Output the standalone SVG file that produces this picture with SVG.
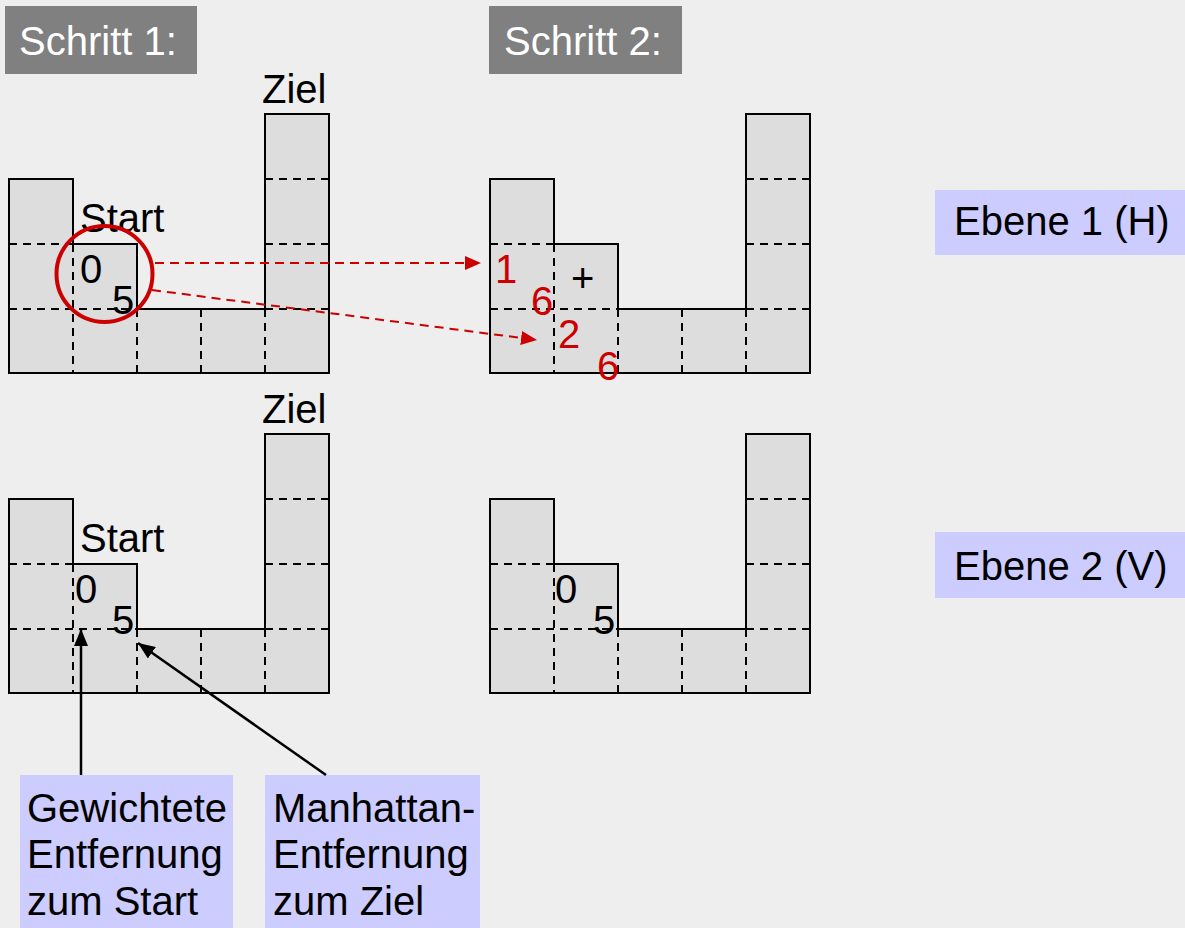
<svg xmlns="http://www.w3.org/2000/svg" xmlns:xlink="http://www.w3.org/1999/xlink" width="1185" height="928" viewBox="0 0 1185 928">
<style>
text{font-family:"Liberation Sans",Arial,sans-serif;font-size:40px;fill:#000}
.outline{fill:#dddddd;stroke:#000;stroke-width:2;stroke-linejoin:miter}
.dash{fill:none;stroke:#000;stroke-width:2;stroke-dasharray:8 6}
.hdr{fill:#808080}
.hdrt{fill:#fff}
.lbl{fill:#ccccff}
.red{fill:#cc0000}
.rline{fill:none;stroke:#cc0000;stroke-width:2;stroke-dasharray:9 6}
.bline{fill:none;stroke:#000;stroke-width:2.5}
</style>
<defs>
<marker id="ar" viewBox="0 0 16 14" refX="16" refY="7" markerWidth="16" markerHeight="14" markerUnits="userSpaceOnUse" orient="auto"><path d="M0,0 L16,7 L0,14 z" fill="#cc0000"/></marker>
<marker id="ab" viewBox="0 0 17 14" refX="17" refY="7" markerWidth="17" markerHeight="14" markerUnits="userSpaceOnUse" orient="auto"><path d="M0,0 L17,7 L0,14 z" fill="#000"/></marker>
<g id="grid">
<path class="outline" d="M9,179 H73 V244 H137 V309 H265 V114 H329 V373 H9 Z"/>
<path class="dash" d="M9,244 H73 M9,309 H137 M73,244 V373 M137,309 V373 M201,309 V373 M265,309 V373 M265,179 H329 M265,244 H329 M265,309 H329"/>
</g>
</defs>
<rect width="1185" height="928" fill="#eeeeee"/>
<g id="header1"><rect class="hdr" x="5" y="6" width="192" height="68"/><text class="hdrt" x="19" y="55">Schritt 1:</text></g>
<g id="header2"><rect class="hdr" x="489" y="6" width="193" height="68"/><text class="hdrt" x="504" y="55">Schritt 2:</text></g>
<g id="grid-1H">
<use xlink:href="#grid"/>
<text x="262" y="103">Ziel</text>
<text x="80" y="232">Start</text>
<text x="80" y="283">0</text>
<text x="112" y="314">5</text>
<circle cx="104.5" cy="274" r="48" fill="none" stroke="#cc0000" stroke-width="4"/>
</g>
<g id="grid-2H">
<use xlink:href="#grid" transform="translate(481,0)"/>
<text class="red" x="495" y="283">1</text>
<text class="red" x="531" y="315">6</text>
<text x="571" y="292">+</text>
<text class="red" x="558" y="348">2</text>
<text class="red" x="597" y="380">6</text>
</g>
<g id="grid-1V">
<use xlink:href="#grid" transform="translate(0,320)"/>
<text x="262" y="423">Ziel</text>
<text x="80" y="552">Start</text>
<text x="75" y="603">0</text>
<text x="112" y="634">5</text>
</g>
<g id="grid-2V">
<use xlink:href="#grid" transform="translate(481,320)"/>
<text x="555" y="603">0</text>
<text x="593" y="634">5</text>
</g>
<g id="ebene1"><rect class="lbl" x="935" y="190" width="250" height="65"/><text x="954" y="235">Ebene 1 (H)</text></g>
<g id="ebene2"><rect class="lbl" x="935" y="532" width="250" height="66"/><text x="954" y="580">Ebene 2 (V)</text></g>
<g id="label-start"><rect class="lbl" x="20" y="775" width="213" height="153"/><text x="27" y="822">Gewichtete</text><text x="27" y="868">Entfernung</text><text x="27" y="915">zum Start</text></g>
<g id="label-ziel"><rect class="lbl" x="265" y="775" width="215" height="153"/><text x="273" y="822">Manhattan-</text><text x="273" y="868">Entfernung</text><text x="273" y="915">zum Ziel</text></g>
<g id="connectors">
<path class="rline" d="M155,263 L481,263" marker-end="url(#ar)"/>
<path class="rline" d="M152,290 L537,340" marker-end="url(#ar)"/>
<path class="bline" d="M81,775 L81,629" marker-end="url(#ab)"/>
<path class="bline" d="M326,775 L138,643" marker-end="url(#ab)"/>
</g>
</svg>
